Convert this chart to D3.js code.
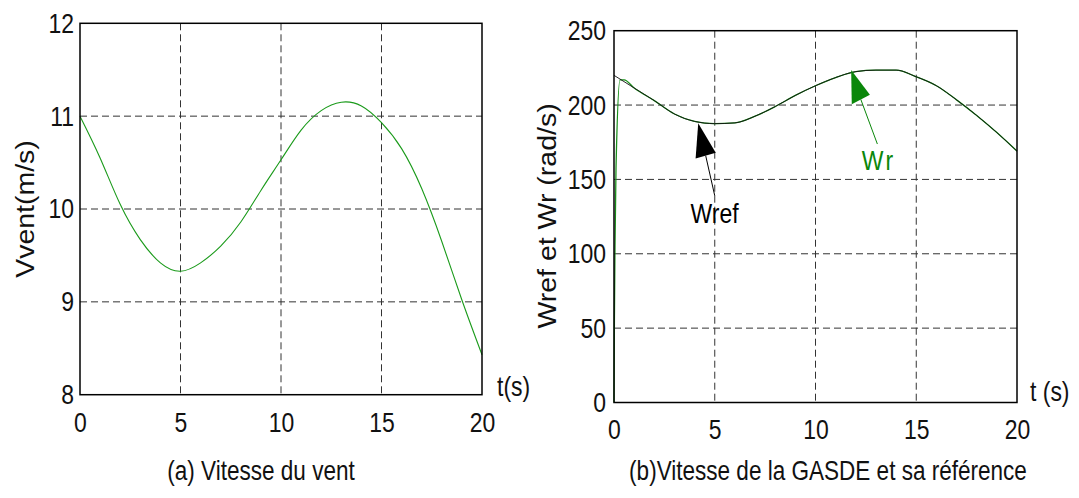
<!DOCTYPE html>
<html><head><meta charset="utf-8">
<script src="https://cdn.jsdelivr.net/npm/d3@7"></script>
<style>body{margin:0;background:#fff}svg{display:block}</style>
</head><body><svg id="c" width="1079" height="498"></svg>
<script>
// ---- data ----
const timeA = [0,1,2,3,4,5,6,7,8,9,10,11,12,13,14,15,16,17,18,19,20];
const vvent = [11.0,10.55,10.05,9.67,9.42,9.33,9.42,9.60,9.86,10.2,10.53,10.85,11.06,11.15,11.11,10.93,10.65,10.22,9.65,9.02,8.43];

const timeRef = [0,1,2,3,4,5,6,7,8,9,10,11,12,13,14,15,16,17,18,19,20];
const wref = [220,211.5,203,194,189,187.5,188,192.5,199,206.5,213,218.5,222.5,223.5,223.5,219,213,203.5,193,181.5,169];

const timeWr = [0,0.02,0.05,0.1,0.3,0.5,1,2,3,4,5,6,7,8,9,10,11,12,13,14,15,16,17,18,19,20];
const wr = [0,55,105,158,217,217,211.5,203,194,189,187.5,188,192.5,199,206.5,213,218.5,222.5,223.5,223.5,219,213,203.5,193,181.5,169];

const xTicks = [0,5,10,15,20];
const yTicksA = [8,9,10,11,12];
const yTicksB = [0,50,100,150,200,250];

const FONT = "'Liberation Sans',Arial,sans-serif";
const SQ = 0.82; // horizontal condensation of the reference lettering
const svg = d3.select("#c");

function label(g,x,y,str,o={}){
  return g.append("text").attr("transform",`translate(${x},${y}) scale(${SQ},1)`)
    .attr("text-anchor",o.anchor||"start").attr("font-family",FONT).attr("font-size",o.size||28)
    .attr("letter-spacing",o.ls||0).attr("fill",o.fill||"#111").text(str);
}
function vlabel(g,x,y,str){
  return g.append("text").attr("transform",`translate(${x},${y}) rotate(-90) scale(1,0.88)`)
    .attr("text-anchor","middle").attr("font-family",FONT)
    .attr("font-size",28.5).attr("fill","#111").text(str);
}

function panel(o){
  const g = svg.append("g");
  const x = d3.scaleLinear().domain([0,20]).range([o.x0,o.x1]);
  const y = d3.scaleLinear().domain(o.ydom).range([o.y1,o.y0]);
  g.selectAll(".gx").data(xTicks.slice(1,-1)).join("line")
    .attr("x1",d=>x(d)).attr("x2",d=>x(d)).attr("y1",o.y0).attr("y2",o.y1)
    .attr("stroke","#333").attr("stroke-width",1).attr("stroke-dasharray","7,4");
  g.selectAll(".gy").data(o.yticks.slice(1,-1)).join("line")
    .attr("y1",d=>y(d)).attr("y2",d=>y(d)).attr("x1",o.x0).attr("x2",o.x1)
    .attr("stroke","#333").attr("stroke-width",1).attr("stroke-dasharray","7,4");
  const ax = g.append("g").attr("transform",`translate(0,${o.y1})`)
    .call(d3.axisBottom(x).tickValues(xTicks).tickFormat(d3.format("d")).tickSize(0).tickPadding(o.xpad));
  const ay = g.append("g").attr("transform",`translate(${o.x0},0)`)
    .call(d3.axisLeft(y).tickValues(o.yticks).tickFormat(d3.format("d")).tickSize(0).tickPadding(o.ypad));
  [ax,ay].forEach(a=>{a.select(".domain").remove();
    a.selectAll("text").each(function(){
      const t=d3.select(this); const tx=+t.attr("x")||0, ty=+t.attr("y")||0;
      t.attr("x",0).attr("y",0).attr("transform",`translate(${tx},${ty}) scale(${SQ},1)`);
    }).attr("font-family",FONT).attr("font-size",28).attr("fill","#111");});
  return {g,x,y};
}

// ---- panel (a)
const A = panel({x0:80,x1:482,y0:23.3,y1:394.7,ydom:[8,12],yticks:yTicksA,xpad:17,ypad:6});
A.g.append("path").datum(timeA.map((t,i)=>[t,vvent[i]]))
  .attr("fill","none").attr("stroke","#1a9a1a").attr("stroke-width",1.1)
  .attr("d",d3.line().x(d=>A.x(d[0])).y(d=>A.y(d[1])).curve(d3.curveNatural));
A.g.append("rect").attr("x",80).attr("y",23.3).attr("width",402).attr("height",371.4)
  .attr("fill","none").attr("stroke","#000").attr("stroke-width",1.5);
vlabel(A.g,34,209,"Vvent(m/s)");
label(A.g,497,396,"t(s)");
label(A.g,261,480,"(a) Vitesse du vent",{anchor:"middle",size:27.5});

// ---- panel (b)
const B = panel({x0:614,x1:1017,y0:30.7,y1:402.5,ydom:[0,250],yticks:yTicksB,xpad:17,ypad:8});
B.g.append("path").datum(timeWr.map((t,i)=>[t,wr[i]]))
  .attr("fill","none").attr("stroke","#1a8f1a").attr("stroke-width",1.3)
  .attr("d",d3.line().x(d=>B.x(d[0])).y(d=>B.y(d[1])).curve(d3.curveMonotoneX));
B.g.append("path").datum(timeRef.map((t,i)=>[t,wref[i]]))
  .attr("fill","none").attr("stroke","#111").attr("stroke-width",0.9)
  .attr("d",d3.line().x(d=>B.x(d[0])).y(d=>B.y(d[1])).curve(d3.curveMonotoneX));
B.g.append("rect").attr("x",614).attr("y",30.7).attr("width",403).attr("height",371.8)
  .attr("fill","none").attr("stroke","#000").attr("stroke-width",1.5);

function arrow(tip,c1,c2,tail,color){
  const P = p=>[B.x(p[0]),B.y(p[1])];
  const mid=[(c1[0]+c2[0])/2,(c1[1]+c2[1])/2];
  B.g.append("line").attr("x1",P(mid)[0]).attr("y1",P(mid)[1]).attr("x2",P(tail)[0]).attr("y2",P(tail)[1])
    .attr("stroke",color).attr("stroke-width",1);
  B.g.append("path").attr("d","M"+[P(tip),P(c1),P(c2)].map(p=>p.join(",")).join("L")+"Z").attr("fill",color);
}
arrow([4.18,187.7],[4.05,164],[5.05,168],[5.0,139],"#000");
arrow([11.77,223.5],[11.8,200.5],[12.7,207],[13.07,173.8],"#0a870a");
label(B.g,B.x(3.8),B.y(120.5),"Wref",{fill:"#000"});
label(B.g,B.x(12.3),B.y(156.5),"Wr",{fill:"#0a870a",ls:3});

vlabel(B.g,556,216,"Wref et Wr (rad/s)");
label(B.g,1030,401,"t (s)");
label(B.g,828,480,"(b)Vitesse de la GASDE et sa référence",{anchor:"middle",size:27.5});
</script></body></html>
